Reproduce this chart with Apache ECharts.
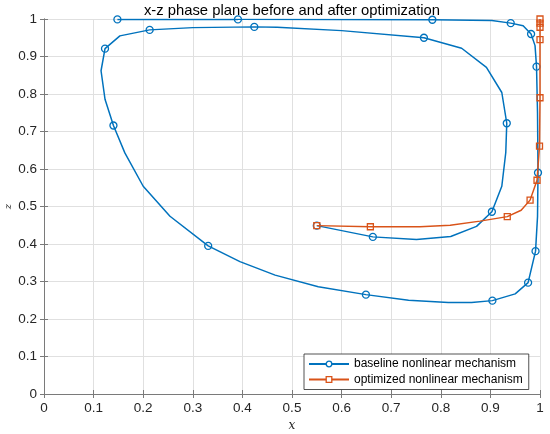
<!DOCTYPE html>
<html>
<head>
<meta charset="utf-8">
<script src="https://cdn.jsdelivr.net/npm/echarts@6/dist/echarts.min.js"></script>
<style>
  html, body { margin: 0; padding: 0; background: #fff; }
  #phase { width: 550px; height: 434px; }
</style>
</head>
<body>
<div id="phase"></div>
<script>
// baseline trajectory (x, z) and which points carry a marker
var baseX = [0.550, 0.663, 0.751, 0.820, 0.872, 0.903, 0.923, 0.931, 0.933, 0.923,
             0.892, 0.842, 0.766, 0.600, 0.470, 0.424, 0.300, 0.213, 0.153, 0.123,
             0.115, 0.123, 0.140, 0.163, 0.200, 0.254, 0.331, 0.395, 0.466, 0.553,
             0.649, 0.735, 0.815, 0.862, 0.904, 0.950, 0.976, 0.991, 0.995, 0.996,
             0.995, 0.993, 0.990, 0.982, 0.966, 0.941, 0.903, 0.783, 0.391, 0.148];
var baseZ = [0.449, 0.419, 0.412, 0.420, 0.447, 0.486, 0.554, 0.644, 0.722, 0.804,
             0.871, 0.922, 0.950, 0.969, 0.978, 0.979, 0.977, 0.971, 0.955, 0.921,
             0.862, 0.786, 0.716, 0.643, 0.554, 0.474, 0.395, 0.353, 0.317, 0.286,
             0.265, 0.250, 0.244, 0.244, 0.249, 0.267, 0.297, 0.381, 0.473, 0.590,
             0.750, 0.873, 0.929, 0.960, 0.982, 0.989, 0.996, 0.998, 0.999, 0.999];
var baseMarks = [0, 1, 5, 8, 12, 15, 17, 19, 22, 26, 30, 34, 36, 37, 39, 41, 43, 45, 47, 48, 49];

// optimized trajectory
var optX = [0.550, 0.658, 0.758, 0.819, 0.879, 0.934, 0.962, 0.980, 0.994, 0.999,
            1.000, 1.000, 1.000, 1.000, 1.000];
var optZ = [0.449, 0.446, 0.446, 0.450, 0.461, 0.473, 0.490, 0.517, 0.570, 0.661,
            0.790, 0.945, 0.978, 0.989, 1.000];
var optMarks = [0, 1, 5, 7, 8, 9, 10, 11, 12, 13, 14];

var ticks = [0, 0.1, 0.2, 0.3, 0.4, 0.5, 0.6, 0.7, 0.8, 0.9, 1];

function buildData(xs, zs, marks) {
    return xs.map(function (x, i) {
        return { value: [x, zs[i]], symbol: marks.indexOf(i) >= 0 ? undefined : 'none' };
    });
}

var font = '"Liberation Sans", Arial, sans-serif';
var axisGray = '#7a7a7a';

function mainAxis(pos, name, gap, rotate) {
    return {
        type: 'value', position: pos, min: 0, max: 1, interval: 0.1,
        name: name, nameLocation: 'middle', nameGap: gap, nameRotate: rotate,
        nameMoveOverlap: false,
        nameTextStyle: { fontFamily: '"DejaVu Serif", serif', fontStyle: 'italic', fontSize: pos === 'left' ? 10 : 12, color: '#262626' },
        axisLine: { show: true, lineStyle: { color: axisGray, width: 1 } },
        axisTick: { show: true, inside: true, length: 4, lineStyle: { color: axisGray } },
        axisLabel: {
            color: '#262626', fontSize: 13.5, fontFamily: font, margin: 7,
            formatter: function (v) { return String(ticks[Math.round(v * 10)]); }
        },
        splitLine: { show: true, lineStyle: { color: '#e0e0e0', width: 1 } }
    };
}

function boxAxis(pos) {
    return {
        type: 'value', position: pos, min: 0, max: 1, interval: 0.1,
        axisLine: { show: true, lineStyle: { color: axisGray, width: 1 } },
        axisTick: { show: true, inside: true, length: 4, lineStyle: { color: axisGray } },
        axisLabel: { show: false },
        splitLine: { show: false }
    };
}

var chart = echarts.init(document.getElementById('phase'));
chart.setOption({
    animation: false,
    backgroundColor: '#fff',
    title: {
        text: 'x-z phase plane before and after optimization',
        left: 292, textAlign: 'center', top: 3, padding: 0,
        textStyle: { fontFamily: font, fontSize: 14.8, fontWeight: 'normal', color: '#000' }
    },
    grid: { left: 44, right: 10, top: 19, bottom: 40, containLabel: false, outerBoundsMode: 'none' },
    xAxis: [mainAxis('bottom', 'x', 26, 0), boxAxis('top')],
    yAxis: [mainAxis('left', 'z', 31, 90), boxAxis('right')],
    legend: {
        orient: 'vertical', left: 304, top: 354,
        backgroundColor: '#fff', borderColor: '#262626', borderWidth: 0.8,
        padding: [3, 6, 3, 4], itemGap: 1.5, itemWidth: 40, itemHeight: 7,
        itemStyle: { color: '#fff', borderWidth: 1.3 },
        textStyle: { fontFamily: font, fontSize: 12, color: '#000', lineHeight: 14 },
        data: ['baseline nonlinear mechanism', 'optimized nonlinear mechanism']
    },
    series: [
        {
            name: 'baseline nonlinear mechanism', type: 'line',
            data: buildData(baseX, baseZ, baseMarks),
            symbol: 'circle', symbolSize: 7, showAllSymbol: true,
            color: '#0072BD',
            lineStyle: { color: '#0072BD', width: 1.5 },
            itemStyle: { color: 'rgba(255,255,255,0)', borderColor: '#0072BD', borderWidth: 1.3 },
            z: 3
        },
        {
            name: 'optimized nonlinear mechanism', type: 'line',
            data: buildData(optX, optZ, optMarks),
            symbol: 'rect', symbolSize: 6, showAllSymbol: true,
            color: '#D95319',
            lineStyle: { color: '#D95319', width: 1.5 },
            itemStyle: { color: 'rgba(255,255,255,0)', borderColor: '#D95319', borderWidth: 1.3 },
            z: 4
        }
    ]
});
</script>
</body>
</html>
